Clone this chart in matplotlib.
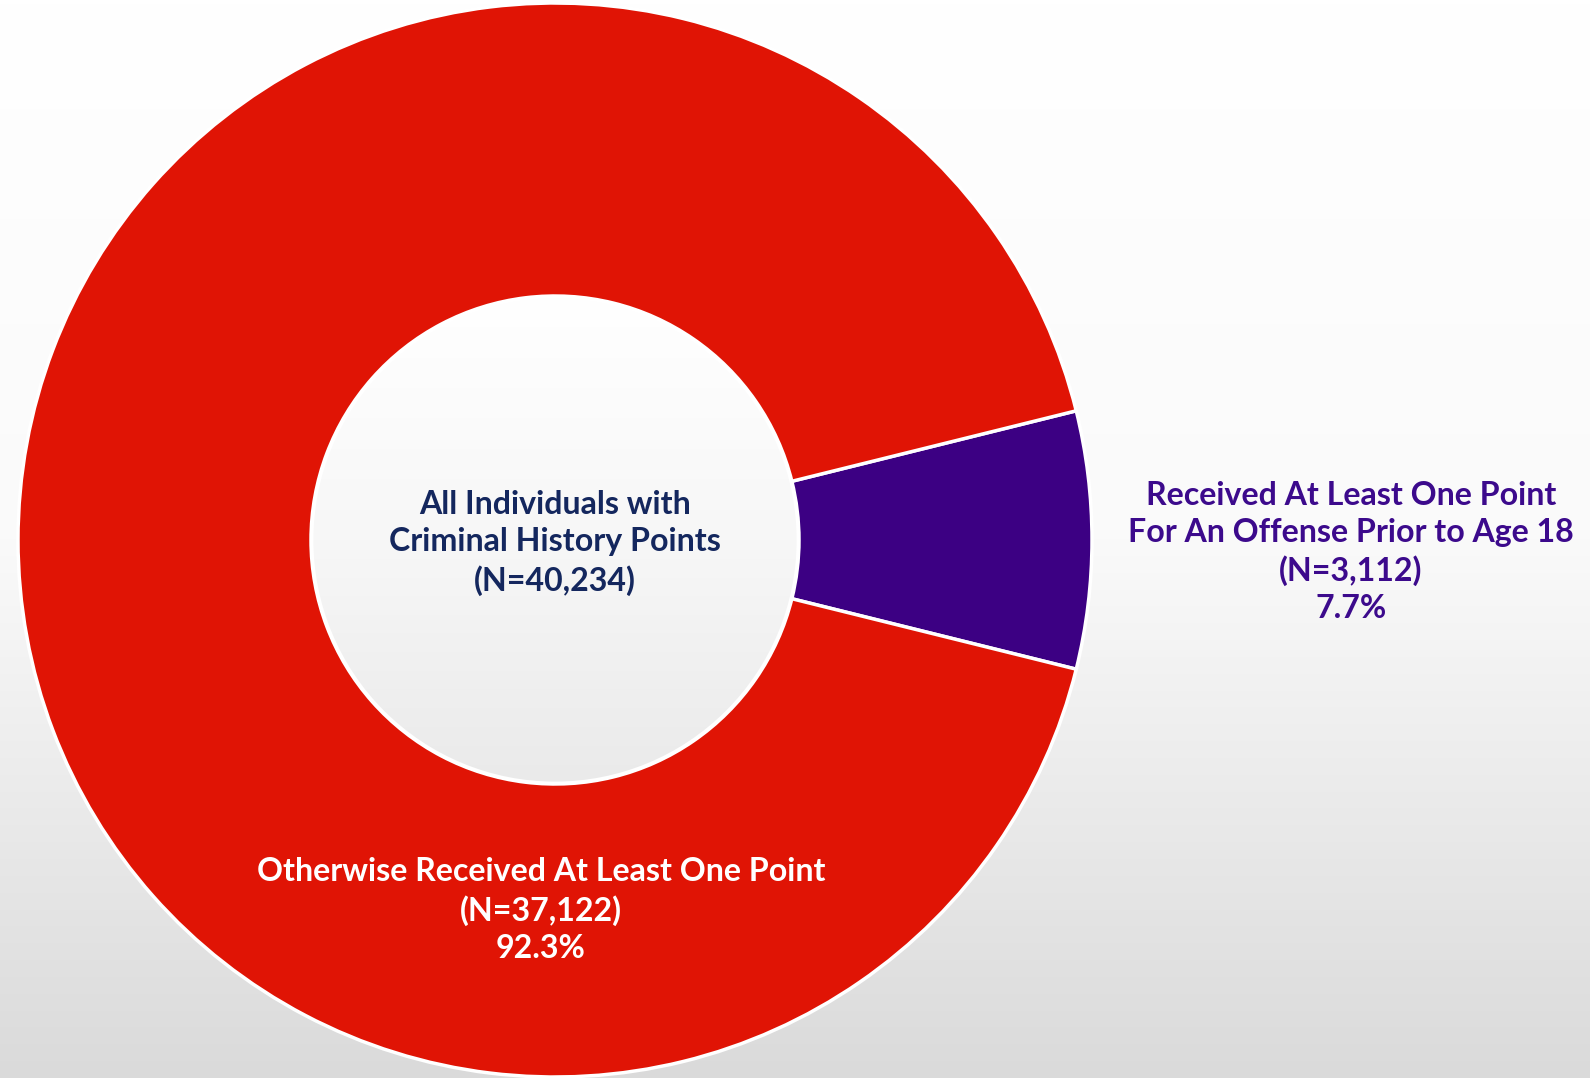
import numpy as np
import matplotlib
matplotlib.use("Agg")
import matplotlib.pyplot as plt
from matplotlib.patches import Circle

categories = ["Received At Least One Point\nFor An Offense Prior to Age 18",
              "Otherwise Received At Least One Point"]
counts = [3112, 37122]
percents = ["7.7%", "92.3%"]
total_label = "All Individuals with\nCriminal History Points\n(N=40,234)"
colors = ["#3C0083", "#E01405"]

W, H = 1590, 1078
fig = plt.figure(figsize=(W / 100, H / 100), dpi=100)
ax = fig.add_axes([0, 0, 1, 1])
ax.set_xlim(0, W)
ax.set_ylim(0, H)
ax.axis("off")

# background gradient
grad = np.linspace(0, 1, 256).reshape(-1, 1)
bg = matplotlib.colors.LinearSegmentedColormap.from_list("bg", ["#FFFFFF", "#FAFAFA", "#DADADA"])
ax.imshow(grad, extent=[0, W, 0, H], origin="upper", cmap=bg, aspect="auto", zorder=0)

cx, cy = 555, 538
R, r = 537, 244
frac = counts[0] / sum(counts)
ax.pie(counts, colors=colors, startangle=-frac * 360 / 2, counterclock=True,
       center=(cx, cy), radius=R, frame=True,
       wedgeprops=dict(width=R - r, edgecolor="white", linewidth=2.5))
ax.set_xlim(0, W)
ax.set_ylim(0, H)
ax.set_aspect("equal")
ax.axis("off")

# center circle gradient
circ = Circle((cx, cy), r - 1, transform=ax.transData, facecolor="none", edgecolor="white", lw=2, zorder=3)
ax.add_patch(circ)
cg = matplotlib.colors.LinearSegmentedColormap.from_list("cg", ["#FFFFFF", "#F7F7F7", "#EAEAEA"])
im = ax.imshow(grad, extent=[cx - r, cx + r, cy - r, cy + r], origin="upper", cmap=cg, aspect="auto", zorder=2)
im.set_clip_path(Circle((cx, cy), r - 1, transform=ax.transData))

font = "Lato"
fs = 23.1
ls = 1.34
ax.text(cx, H - 543, total_label, ha="center", va="center", fontsize=fs, fontweight="bold",
        color="#14275E", family=font, linespacing=ls, zorder=5)
ax.text(1351, H - 552, f"{categories[0]}\n(N={counts[0]:,})\n{percents[0]}", ha="center", va="center",
        fontsize=fs, fontweight="bold", color="#3C0A8C", family=font, linespacing=ls, zorder=5)
ax.text(541, H - 910, f"{categories[1]}\n(N={counts[1]:,})\n{percents[1]}", ha="center", va="center",
        fontsize=fs, fontweight="bold", color="white", family=font, linespacing=ls, zorder=5)

fig.savefig("out.png", dpi=100)
